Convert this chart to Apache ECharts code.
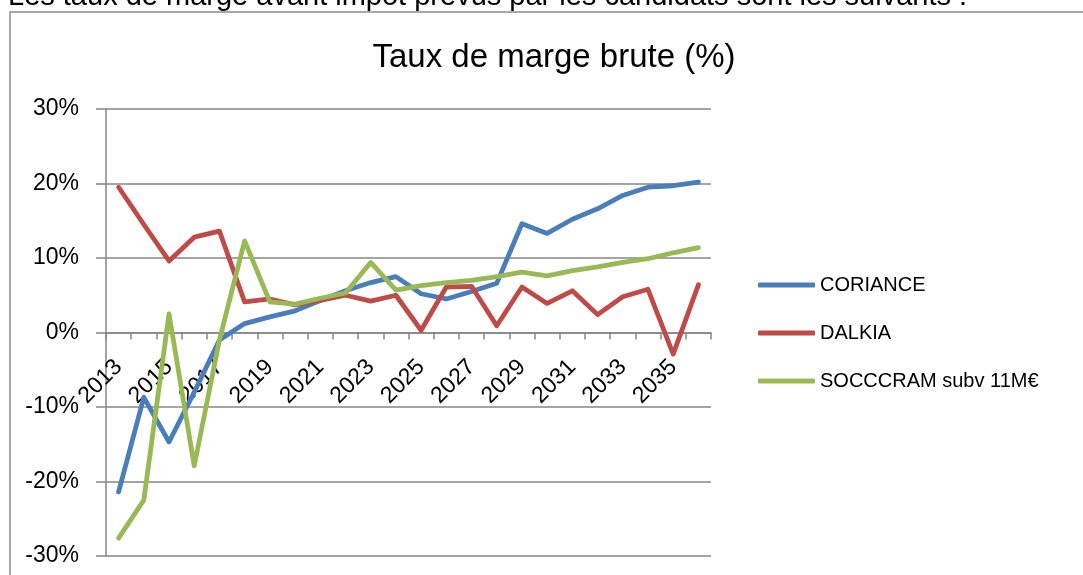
<!DOCTYPE html>
<html>
<head>
<meta charset="utf-8">
<script src="https://cdn.jsdelivr.net/npm/echarts@6/dist/echarts.min.js"></script>
<style>
  html, body { margin: 0; padding: 0; background: #fff; }
  #chart { width: 1083px; height: 575px; }
</style>
</head>
<body>
<div id="chart"></div>
<script>
var years = ['2013', '2014', '2015', '2016', '2017', '2018', '2019', '2020', '2021', '2022', '2023', '2024',
  '2025', '2026', '2027', '2028', '2029', '2030', '2031', '2032', '2033', '2034', '2035', '2036'];

// valeurs en %
var coriance = [-21.4, -8.7, -14.7, -8.0, -1.0, 1.2, 2.1, 2.9, 4.3, 5.6, 6.7, 7.5,
  5.2, 4.5, 5.5, 6.6, 14.6, 13.3, 15.2, 16.6, 18.4, 19.5, 19.7, 20.2];
var dalkia = [19.5, 14.5, 9.6, 12.8, 13.6, 4.1, 4.5, 3.7, 4.3, 5.0, 4.2, 5.0,
  0.3, 6.1, 6.2, 0.9, 6.1, 3.9, 5.6, 2.4, 4.8, 5.8, -2.9, 6.4];
var socccram = [-27.6, -22.5, 2.5, -17.9, -1.0, 12.3, 4.1, 3.8, 4.6, 5.3, 9.4, 5.7,
  6.3, 6.7, 7.0, 7.5, 8.1, 7.6, 8.3, 8.8, 9.4, 9.9, 10.7, 11.4];

var seriesNames = ['CORIANCE', 'DALKIA', 'SOCCCRAM subv 11M€'];
var colors = ['#4a7ebb', '#be4b48', '#98b954'];

var font = '"Liberation Sans", Arial, sans-serif';
var gridGray = '#868686';

// grille : haut 109, bas 556 -> le 0 % est au milieu
var gridTop = 109, gridBottom = 575 - 556;
var zeroShift = (556 - gridTop) / 2;

var chart = echarts.init(document.getElementById('chart'));

function makeLine(name, data, color) {
  return {
    name: name,
    type: 'line',
    data: data,
    symbol: 'none',
    color: color,
    lineStyle: { width: 4.8, color: color, cap: 'round', join: 'round' },
    animation: false
  };
}

chart.setOption({
  animation: false,
  title: {
    text: 'Taux de marge brute (%)',
    left: 549,
    textAlign: 'center',
    top: 36,
    textStyle: { fontFamily: font, fontSize: 33, fontWeight: 'normal', color: '#000' }
  },
  graphic: [
    {
      // cadre du graphique
      type: 'rect',
      shape: { x: 10, y: 12, width: 1100, height: 600 },
      style: { fill: 'none', stroke: '#8c8c8c', lineWidth: 1.5 },
      silent: true
    },
    {
      // ligne de texte coupée au-dessus
      type: 'text',
      x: 8,
      y: 11,
      style: {
        text: 'Les taux de marge avant impôt prévus par les candidats sont les suivants :',
        font: '29px ' + font,
        fill: '#000',
        verticalAlign: 'bottom'
      },
      silent: true
    }
  ],
  legend: {
    orient: 'vertical',
    left: 758,
    top: 275,
    padding: 0,
    itemWidth: 57,
    itemHeight: 5,
    itemGap: 28,
    icon: 'roundRect',
    selectedMode: false,
    textStyle: { fontFamily: font, fontSize: 20, color: '#000' },
    data: seriesNames.map(function (n, i) {
      return { name: n, itemStyle: { color: colors[i] } };
    })
  },
  grid: { left: 106, right: 372, top: gridTop, bottom: gridBottom, outerBoundsMode: 'none' },
  xAxis: {
    type: 'category',
    data: years,
    boundaryGap: true,
    position: 'bottom',
    offset: -zeroShift,
    axisLine: { onZero: false, lineStyle: { color: gridGray, width: 1.5 } },
    axisTick: { show: true, interval: 0, length: 7, lineStyle: { color: gridGray, width: 1.5 } },
    axisLabel: {
      interval: 1,
      rotate: 45,
      margin: 31,
      fontFamily: font,
      fontSize: 23,
      color: '#000'
    },
    splitLine: { show: false }
  },
  yAxis: {
    type: 'value',
    min: -30,
    max: 30,
    interval: 10,
    axisLine: { show: true, lineStyle: { color: gridGray, width: 1.5 } },
    axisTick: { show: true, length: 10, lineStyle: { color: gridGray, width: 1.5 } },
    axisLabel: {
      margin: 27,
      fontFamily: font,
      fontSize: 23,
      color: '#000',
      formatter: '{value}%'
    },
    splitLine: { show: true, lineStyle: { color: gridGray, width: 1.5 } }
  },
  series: [
    makeLine(seriesNames[0], coriance, colors[0]),
    makeLine(seriesNames[1], dalkia, colors[1]),
    makeLine(seriesNames[2], socccram, colors[2])
  ]
});
</script>
</body>
</html>
